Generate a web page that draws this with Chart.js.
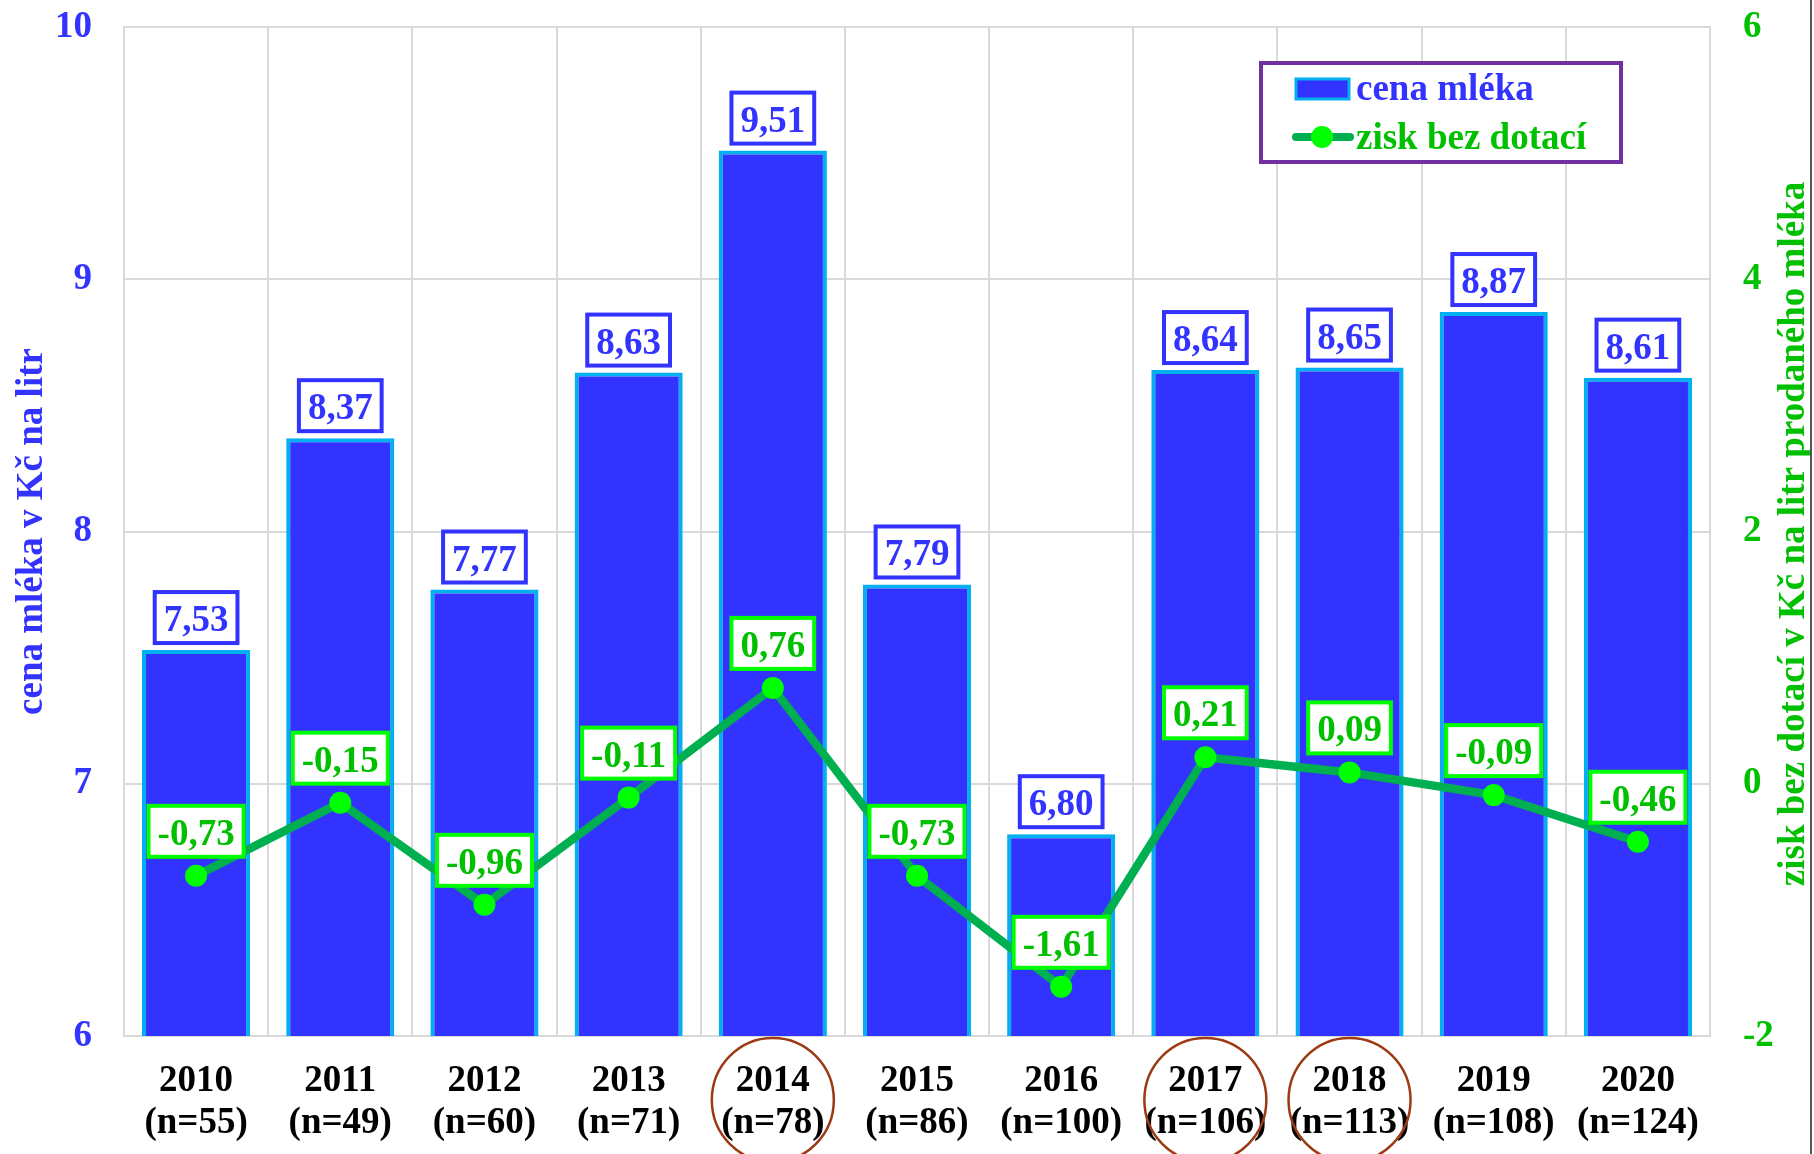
<!DOCTYPE html>
<html>
<head>
<meta charset="utf-8">
<script src="https://cdn.jsdelivr.net/npm/chart.js@4/dist/chart.umd.min.js"></script>
<style>
html,body{margin:0;padding:0;background:#fff;}
#wrap{width:1814px;height:1154px;position:relative;}
</style>
</head>
<body>
<div id="wrap"><canvas id="c" width="1814" height="1154"></canvas></div>
<script>
const years = ['2010','2011','2012','2013','2014','2015','2016','2017','2018','2019','2020'];
const counts = ['(n=55)','(n=49)','(n=60)','(n=71)','(n=78)','(n=86)','(n=100)','(n=106)','(n=113)','(n=108)','(n=124)'];
const milkPrice = [7.53, 8.37, 7.77, 8.63, 9.51, 7.79, 6.80, 8.64, 8.65, 8.87, 8.61];
const profitNoSubsidy = [-0.73, -0.15, -0.96, -0.11, 0.76, -0.73, -1.61, 0.21, 0.09, -0.09, -0.46];
const highlighted = ['2014','2017','2018'];
const leftTicks = [6, 7, 8, 9, 10];
const rightTicks = [-2, 0, 2, 4, 6];
const seriesNames = ['cena mléka', 'zisk bez dotací'];
const leftTitle = 'cena mléka v Kč na litr';
const rightTitle = 'zisk bez dotací v Kč na litr prodaného mléka';

const BLUE = '#3333FF', BAR_BORDER = '#00B0F0', GREEN_TXT = '#00C000', GREEN_LINE = '#00B050', GREEN_PT = '#00FF00';
const FONT = '"Liberation Serif", "Times New Roman", serif';
const fmt = v => v.toFixed(2).replace('.', ',');

function box(ctx, cx, bottom, text, color, border) {
  ctx.font = 'bold 37px ' + FONT;
  const tw = ctx.measureText(text).width;
  const w = tw + 18, h = 51;
  const x = cx - w / 2, y = bottom - h - 2;
  ctx.fillStyle = '#fff';
  ctx.fillRect(x, y, w, h);
  ctx.lineWidth = 4;
  ctx.strokeStyle = border;
  ctx.strokeRect(x, y, w, h);
  ctx.fillStyle = color;
  ctx.textAlign = 'center';
  ctx.textBaseline = 'alphabetic';
  ctx.fillText(text, cx, y + h / 2 + 13.5);
}

const overlay = {
  id: 'overlay',
  afterDatasetsDraw(chart) {
    const ctx = chart.ctx;
    ctx.save();
    const barMeta = chart.getDatasetMeta(1);
    barMeta.data.forEach((el, i) => {
      box(ctx, el.x, el.y - 5, fmt(milkPrice[i]), BLUE, BLUE);
    });
    const lineMeta = chart.getDatasetMeta(0);
    lineMeta.data.forEach((el, i) => {
      box(ctx, el.x, el.y - 17, fmt(profitNoSubsidy[i]), GREEN_TXT, GREEN_PT);
    });
    ctx.restore();
  },
  afterDraw(chart) {
    const ctx = chart.ctx;
    const xs = chart.scales.x;
    ctx.save();
    ctx.strokeStyle = '#9C3A14';
    ctx.lineWidth = 2.5;
    highlighted.forEach(y => {
      const i = years.indexOf(y);
      const cx = xs.getPixelForValue(i);
      ctx.beginPath();
      ctx.ellipse(cx, 1100, 61, 62, 0, 0, Math.PI * 2);
      ctx.stroke();
    });
    ctx.font = 'bold 37px ' + FONT;
    ctx.textAlign = 'center';
    ctx.textBaseline = 'alphabetic';
    const ca = chart.chartArea;
    ctx.save();
    ctx.translate(42, (ca.top + ca.bottom) / 2);
    ctx.rotate(-Math.PI / 2);
    ctx.fillStyle = BLUE;
    ctx.fillText(leftTitle, 0, 0);
    ctx.restore();
    ctx.save();
    ctx.translate(1804, 534);
    ctx.rotate(-Math.PI / 2);
    ctx.fillStyle = GREEN_TXT;
    ctx.fillText(rightTitle, 0, 0);
    ctx.restore();
    ctx.fillStyle = '#fff';
    ctx.fillRect(1261, 63, 360, 99);
    ctx.lineWidth = 4;
    ctx.strokeStyle = '#7030A0';
    ctx.strokeRect(1261, 63, 360, 99);
    ctx.fillStyle = BLUE;
    ctx.fillRect(1296, 79, 53, 20);
    ctx.lineWidth = 3;
    ctx.strokeStyle = BAR_BORDER;
    ctx.strokeRect(1296, 79, 53, 20);
    ctx.beginPath();
    ctx.lineCap = 'round';
    ctx.lineWidth = 8;
    ctx.strokeStyle = GREEN_LINE;
    ctx.moveTo(1296, 137); ctx.lineTo(1350, 137);
    ctx.stroke();
    ctx.beginPath();
    ctx.fillStyle = GREEN_PT;
    ctx.arc(1322, 137, 11, 0, Math.PI * 2);
    ctx.fill();
    ctx.font = 'bold 37px ' + FONT;
    ctx.textAlign = 'left';
    ctx.textBaseline = 'alphabetic';
    ctx.fillStyle = BLUE;
    ctx.fillText(seriesNames[0], 1356, 100);
    ctx.fillStyle = GREEN_TXT;
    ctx.fillText(seriesNames[1], 1356, 149);
    ctx.fillStyle = '#555';
    ctx.fillRect(1810, 0, 2, 1154);
    ctx.restore();
  }
};

const labels = years.map((y, i) => [y, counts[i]]);

function fitY(w) {
  return function (s) { s.width = w; s.paddingTop = 0; s.paddingBottom = 0; };
}

new Chart(document.getElementById('c'), {
  data: {
    labels: labels,
    datasets: [
      {
        type: 'line',
        label: seriesNames[1],
        data: profitNoSubsidy,
        yAxisID: 'y2',
        borderColor: GREEN_LINE,
        borderWidth: 8.5,
        pointRadius: 11,
        pointHoverRadius: 11,
        pointBackgroundColor: GREEN_PT,
        pointBorderColor: GREEN_PT,
        pointBorderWidth: 0,
        tension: 0,
        order: 0
      },
      {
        type: 'bar',
        label: seriesNames[0],
        data: milkPrice,
        yAxisID: 'y',
        backgroundColor: BLUE,
        borderColor: BAR_BORDER,
        borderWidth: 4,
        borderSkipped: false,
        barPercentage: 0.75,
        categoryPercentage: 1.0,
        order: 1
      }
    ]
  },
  options: {
    responsive: false,
    animation: false,
    events: [],
    layout: { padding: { top: 27, left: 0, right: 0, bottom: 0 } },
    plugins: { legend: { display: false }, tooltip: { enabled: false } },
    scales: {
      x: {
        offset: true,
        grid: { color: '#D9D9D9', lineWidth: 2, offset: true, drawTicks: false },
        border: { display: true, color: '#D9D9D9', width: 2 },
        ticks: {
          color: '#000',
          font: { family: FONT, size: 37, weight: 'bold', lineHeight: 1.12 },
          padding: 25,
          autoSkip: false,
          maxRotation: 0,
          minRotation: 0
        },
        afterFit(s) { s.height = 118; s.paddingLeft = 0; s.paddingRight = 0; }
      },
      y: {
        position: 'left',
        min: 6, max: 10,
        afterBuildTicks(s) { s.ticks = leftTicks.map(v => ({ value: v })); },
        grid: { color: '#D9D9D9', lineWidth: 2, drawTicks: false },
        border: { display: true, color: '#D9D9D9', width: 2 },
        ticks: {
          color: BLUE,
          font: { family: FONT, size: 37, weight: 'bold' },
          padding: 32,
          callback: v => String(v)
        },
        afterFit: fitY(124)
      },
      y2: {
        position: 'right',
        min: -2, max: 6,
        afterBuildTicks(s) { s.ticks = rightTicks.map(v => ({ value: v })); },
        grid: { display: false, drawTicks: false },
        border: { display: true, color: '#D9D9D9', width: 2 },
        ticks: {
          color: GREEN_TXT,
          font: { family: FONT, size: 37, weight: 'bold' },
          padding: 33,
          callback: v => String(v)
        },
        afterFit: fitY(104)
      }
    }
  },
  plugins: [overlay]
});
</script>
</body>
</html>
